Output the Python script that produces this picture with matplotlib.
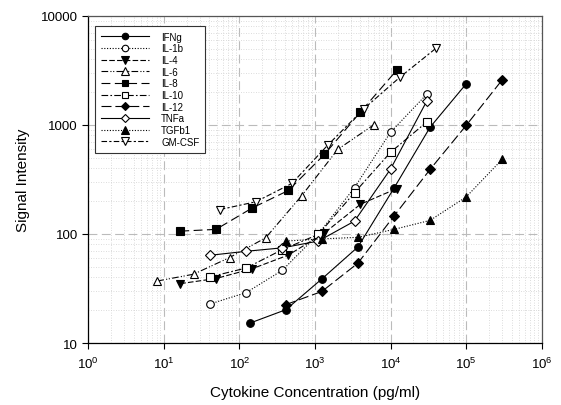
import matplotlib
matplotlib.use("Agg")
import matplotlib.pyplot as plt
from matplotlib.ticker import LogLocator, FixedLocator, NullFormatter, FixedFormatter

plt.rcParams['font.family'] = ['Liberation Sans', 'DejaVu Sans']
plt.rcParams['mathtext.default'] = 'regular'

names = ["IFNg", "IL-1b", "IL-4", "IL-6", "IL-8", "IL-10", "IL-12", "TNFa", "TGFb1", "GM-CSF"]

x_ifng = [137, 412, 1235, 3704, 11111, 33333, 100000]
y_ifng = [15.2, 20.2, 38.7, 76, 263, 950, 2370]

x_il1b = [41, 123, 370, 1111, 3333, 10000, 30000]
y_il1b = [22.8, 29, 46.4, 100, 266, 855, 1900]

x_il4 = [16.5, 49, 148, 444, 1333, 4000, 12000]
y_il4 = [35, 39, 48, 64, 102, 187, 260]

x_il6 = [8.2, 24.7, 74, 222, 667, 2000, 6000]
y_il6 = [37, 42.7, 60.7, 92, 224, 595, 1000]

x_il8 = [16.5, 49, 148, 444, 1333, 4000, 12000]
y_il8 = [106, 110, 173, 250, 535, 1310, 3150]

x_il10 = [41, 123, 370, 1111, 3333, 10000, 30000]
y_il10 = [40.4, 48.7, 71.8, 99, 239, 560, 1058]

x_il12 = [412, 1235, 3704, 11111, 33333, 100000, 300000]
y_il12 = [22.5, 29.7, 54, 146, 390, 986, 2580]

x_tnfa = [41, 123, 370, 1111, 3333, 10000, 30000]
y_tnfa = [63.7, 69.3, 74.5, 86, 131, 393, 1642]

x_tgfb1 = [412, 1235, 3704, 11111, 33333, 100000, 300000]
y_tgfb1 = [86, 90, 93, 110, 133, 218, 482]

x_gmcsf = [55, 165, 494, 1481, 4444, 13333, 40000]
y_gmcsf = [167, 197, 290, 653, 1405, 2735, 5035]

xs = [x_ifng, x_il1b, x_il4, x_il6, x_il8, x_il10, x_il12, x_tnfa, x_tgfb1, x_gmcsf]
ys = [y_ifng, y_il1b, y_il4, y_il6, y_il8, y_il10, y_il12, y_tnfa, y_tgfb1, y_gmcsf]

styles = [
    dict(marker='o', mfc='black', ls='-', ms=5.5),
    dict(marker='o', mfc='white', ls=(0, (1, 1.5)), ms=5.5),
    dict(marker='v', mfc='black', ls=(0, (5, 2)), ms=6),
    dict(marker='^', mfc='white', ls=(0, (6, 2, 1, 1.5, 1, 2)), ms=6),
    dict(marker='s', mfc='black', ls=(0, (8, 4)), ms=5.5),
    dict(marker='s', mfc='white', ls=(0, (6, 2, 1.5, 2)), ms=5.5),
    dict(marker='D', mfc='black', ls=(0, (9, 3.5)), ms=5),
    dict(marker='D', mfc='white', ls='-', ms=5),
    dict(marker='^', mfc='black', ls=(0, (1, 1.5)), ms=6),
    dict(marker='v', mfc='white', ls=(0, (5, 2, 2, 2)), ms=6),
]

fig = plt.figure(figsize=(5.61, 4.06), dpi=100)
ax = fig.add_axes([0.1574, 0.1527, 0.8082, 0.8062])

for name, x, y, st in zip(names, xs, ys, styles):
    ax.plot(x, y, color='black', lw=0.8, marker=st['marker'], ms=st['ms'],
            mfc=st['mfc'], mec='black', mew=0.8, ls=st['ls'], label=name, zorder=3)

ax.set_xscale('log')
ax.set_yscale('log')
ax.set_xlim(1, 1e6)
ax.set_ylim(10, 10000)

ax.xaxis.set_major_locator(LogLocator(base=10, numticks=10))
ax.xaxis.set_minor_locator(LogLocator(base=10, subs=range(2, 10), numticks=20))
ax.xaxis.set_minor_formatter(NullFormatter())
ax.yaxis.set_major_locator(FixedLocator([10, 100, 1000, 10000]))
ax.yaxis.set_major_formatter(FixedFormatter(["10", "100", "1000", "10000"]))
ax.yaxis.set_minor_locator(LogLocator(base=10, subs=range(2, 10), numticks=20))
ax.yaxis.set_minor_formatter(NullFormatter())

ax.tick_params(which='major', direction='out', length=4, width=0.8, labelsize=9.5, color='black')
ax.tick_params(which='minor', length=0)
ax.tick_params(axis='x', pad=5)

ax.grid(which='major', color='#bbbbbb', lw=0.8, ls=(0, (8, 4)), zorder=0)
ax.grid(which='minor', color='#d0d0d0', lw=0.6, ls=(0, (1, 2)), zorder=0)
ax.set_axisbelow(True)

for s in ax.spines.values():
    s.set_linewidth(0.9)
ax.spines['top'].set_color('#555555')
ax.spines['right'].set_color('#555555')

ax.set_xlabel("Cytokine Concentration (pg/ml)", fontsize=11, labelpad=10)
ax.set_ylabel("Signal Intensity", fontsize=11, labelpad=8)

leg = ax.legend(loc='upper left', bbox_to_anchor=(0.0148, 0.9685), fontsize=7,
                frameon=True, fancybox=False, edgecolor='#333333', framealpha=1,
                handlelength=5, handletextpad=1.2, labelspacing=0.17,
                borderpad=0.6, borderaxespad=0, markerscale=0.85)
leg.get_frame().set_linewidth(0.8)

fig.savefig("out.png", dpi=100)
